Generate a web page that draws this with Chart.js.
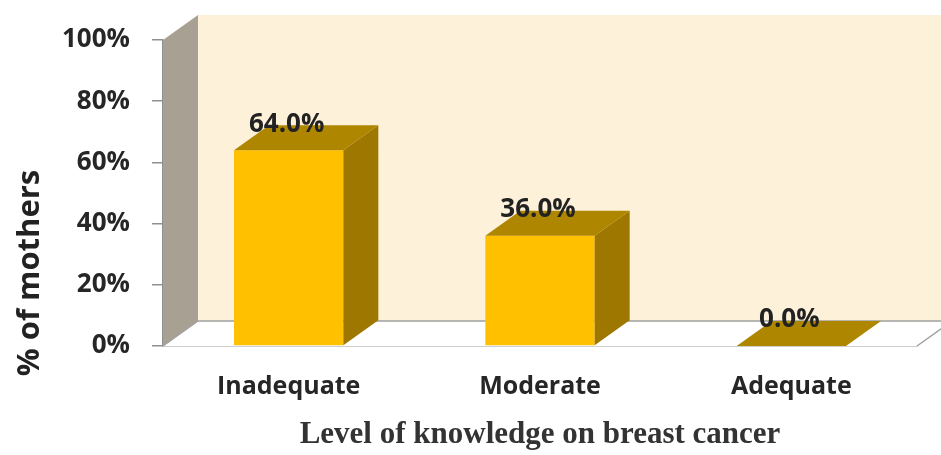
<!DOCTYPE html>
<html>
<head>
<meta charset="utf-8">
<title>Level of knowledge on breast cancer</title>
<script src="https://cdn.jsdelivr.net/npm/chart.js@4.4.1/dist/chart.umd.min.js"></script>
<style>
    html, body { margin: 0; padding: 0; background: #fff; }
    #wrap { width: 941px; height: 455px; position: relative; }
</style>
</head>
<body>
<div id="wrap"><canvas id="knowledgeChart"></canvas></div>
<script>
// Chart data
const categories = ['Inadequate', 'Moderate', 'Adequate'];
const percentMothers = [64.0, 36.0, 0.0];
const yTicks = [0, 20, 40, 60, 80, 100];
const yTitle = '% of mothers';
const xTitle = 'Level of knowledge on breast cancer';

// 3D look
const depthX = 35;
const depthY = -25;
const frontColor = '#FFC000';
const topColor = '#AE8600';
const sideColor = '#9E7700';
const wallColor = '#FDF1DA';
const sideWallColor = '#A8A193';
const edgeColor = '#A0A0A0';
const labelFont = '"Open Sans", sans-serif';

// Draws the walls, floor, 3D faces of the bars and the labels
const threeD = {
    id: 'threeD',
    beforeDatasetsDraw(chart) {
        const { ctx, chartArea: a } = chart;
        const right = chart.width + depthX;
        ctx.save();
        // back wall
        ctx.fillStyle = wallColor;
        ctx.fillRect(a.left + depthX, a.top + depthY, right - a.left, a.bottom - a.top);
        // left wall
        ctx.fillStyle = sideWallColor;
        ctx.beginPath();
        ctx.moveTo(a.left, a.top);
        ctx.lineTo(a.left + depthX, a.top + depthY);
        ctx.lineTo(a.left + depthX, a.bottom + depthY);
        ctx.lineTo(a.left, a.bottom);
        ctx.closePath();
        ctx.fill();
        // floor
        ctx.fillStyle = '#ffffff';
        ctx.beginPath();
        ctx.moveTo(a.left, a.bottom);
        ctx.lineTo(a.left + depthX, a.bottom + depthY);
        ctx.lineTo(a.right + depthX, a.bottom + depthY);
        ctx.lineTo(a.right, a.bottom);
        ctx.closePath();
        ctx.fill();
        ctx.strokeStyle = edgeColor;
        ctx.lineWidth = 1.5;
        ctx.beginPath();
        ctx.moveTo(a.left + depthX, a.bottom + depthY);
        ctx.lineTo(chart.width, a.bottom + depthY);
        ctx.moveTo(a.left, a.bottom);
        ctx.lineTo(a.left + depthX, a.bottom + depthY);
        ctx.moveTo(a.right, a.bottom);
        ctx.lineTo(a.right + depthX, a.bottom + depthY);
        ctx.stroke();
        ctx.restore();
    },
    afterDatasetsDraw(chart) {
        const { ctx } = chart;
        const meta = chart.getDatasetMeta(0);
        ctx.save();
        meta.data.forEach((bar, i) => {
            const half = bar.width / 2;
            const l = bar.x - half, r = bar.x + half;
            const t = bar.y, b = bar.base;
            // side face
            ctx.fillStyle = sideColor;
            ctx.beginPath();
            ctx.moveTo(r, t);
            ctx.lineTo(r + depthX, t + depthY);
            ctx.lineTo(r + depthX, b + depthY);
            ctx.lineTo(r, b);
            ctx.closePath();
            ctx.fill();
            // top face
            ctx.fillStyle = topColor;
            ctx.beginPath();
            ctx.moveTo(l, t);
            ctx.lineTo(l + depthX, t + depthY);
            ctx.lineTo(r + depthX, t + depthY);
            ctx.lineTo(r, t);
            ctx.closePath();
            ctx.fill();
            // value label
            ctx.fillStyle = '#222';
            ctx.font = 'bold 26px ' + labelFont;
            ctx.textAlign = 'center';
            ctx.textBaseline = 'middle';
            ctx.fillText(percentMothers[i].toFixed(1) + '%', bar.x - 2, t + depthY - 1);
        });
        ctx.restore();
    },
    afterDraw(chart) {
        const { ctx } = chart;
        ctx.save();
        ctx.translate(30, 273);
        ctx.rotate(-Math.PI / 2);
        ctx.fillStyle = '#222';
        ctx.font = 'bold 31px ' + labelFont;
        ctx.textAlign = 'center';
        ctx.textBaseline = 'middle';
        ctx.fillText(yTitle, 0, 0);
        ctx.restore();
    }
};

const ctx = document.getElementById('knowledgeChart').getContext('2d');

const chart = new Chart(ctx, {
    type: 'bar',
    data: {
        labels: categories,
        datasets: [{
            label: yTitle,
            data: percentMothers,
            backgroundColor: frontColor,
            borderWidth: 0,
            categoryPercentage: 1,
            barPercentage: 0.435
        }]
    },
    options: {
        responsive: true,
        maintainAspectRatio: false,
        animation: false,
        layout: {
            padding: { left: 0, right: 24, top: 40, bottom: 0 }
        },
        scales: {
            x: {
                afterFit: (scale) => { scale.height = 109; },
                grid: { display: false },
                border: { display: true, color: edgeColor, width: 1.5 },
                ticks: {
                    color: '#262626',
                    padding: 18,
                    font: { family: labelFont, size: 25, weight: 'bold' }
                },
                title: {
                    display: true,
                    text: xTitle,
                    color: '#333',
                    padding: { top: 0, bottom: 1 },
                    font: { family: '"Liberation Serif", serif', size: 31, weight: 'bold' }
                }
            },
            y: {
                min: 0,
                max: 100,
                afterFit: (scale) => { scale.width = 163; },
                afterBuildTicks: (scale) => {
                    scale.ticks = yTicks.map(v => ({ value: v }));
                },
                grid: {
                    drawOnChartArea: false,
                    drawTicks: true,
                    tickLength: 11,
                    color: '#909090',
                    lineWidth: 1.5
                },
                border: { display: true, color: '#909090', width: 1.5 },
                ticks: {
                    color: '#262626',
                    padding: 22,
                    font: { family: labelFont, size: 26, weight: 'bold' },
                    callback: (v) => v + '%'
                }
            }
        },
        plugins: {
            legend: { display: false },
            tooltip: { enabled: false }
        }
    },
    plugins: [threeD]
});
</script>
</body>
</html>
